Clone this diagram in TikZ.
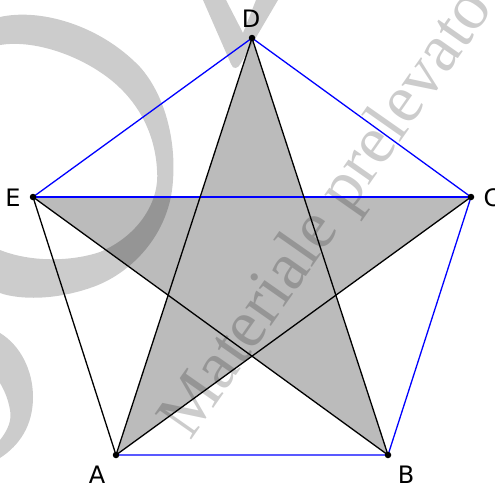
\documentclass[tikz,border=0pt]{standalone}
\usepackage{fontspec}
\setmainfont{DejaVu Sans}
\newfontfamily\wmfont{Liberation Serif}
\usetikzlibrary{positioning}

\definecolor{starfill}{RGB}{187,187,187}
\definecolor{segblue}{RGB}{0,0,255}

\tikzset{
  blueseg/.style={segblue, line width=1.3pt},
  blackseg/.style={black, line width=1.3pt},
  vdot/.style={circle, fill=black, inner sep=0pt, minimum size=6.5pt},
  vlabel/.style={font=\fontsize{24}{24}\selectfont, inner sep=0pt},
  wmark/.style={black, opacity=0.2},
  wmtext/.style={wmark, text opacity=0.2, font=\wmfont\fontsize{68}{68}\selectfont, inner sep=0pt}
}

\begin{document}
\begin{tikzpicture}[x=1pt,y=-1pt]
  \useasboundingbox (0,0) rectangle (495,485);
  \clip (0,0) rectangle (495,485);

  \coordinate (A) at (116,455);
  \coordinate (B) at (388,455);
  \coordinate (C) at (471,197);
  \coordinate (D) at (252,38);
  \coordinate (E) at (33,197);

  \fill[starfill] (A) -- (D) -- (B) -- (E) -- (C) -- cycle;

  % watermark
  \fill[wmark] (0,17) .. controls (40,8) and (100,25) .. (140,67)
    .. controls (165,95) and (176,140) .. (173,180)
    .. controls (170,235) and (130,275) .. (90,288)
    .. controls (55,300) and (20,300) .. (0,293)
    -- (0,250) .. controls (30,262) and (70,262) .. (100,252)
    .. controls (140,235) and (160,200) .. (157,170)
    .. controls (155,130) and (135,95) .. (100,72)
    .. controls (70,52) and (30,40) .. (0,45) -- cycle;
  \fill[wmark] (0,333) .. controls (20,345) and (33,370) .. (33,397)
    .. controls (33,425) and (20,445) .. (0,458)
    -- (0,440) .. controls (8,430) and (12,420) .. (10,410)
    .. controls (8,398) and (4,390) .. (0,383) -- cycle;
  \fill[wmark] (203,0) -- (226,0) -- (243,33) -- (256,0) -- (278,0)
    -- (241,63) .. controls (238,69) and (233,70) .. (231,64) -- cycle;
  \node[wmtext, rotate=55, anchor=base west] (wm) at (190,442) {Materiale prelevato};

  \draw[blueseg] (A) -- (B) -- (C) -- (D) -- (E);
  \draw[blueseg] (E) -- (C);
  \draw[blackseg] (E) -- (A) -- (D) -- (B) -- (E);
  \draw[blackseg] (A) -- (C);

  \foreach \v in {A,B,C,D,E}
    \node[vdot] (dot\v) at (\v) {};

  \node[vlabel] (labA) at (97,475) {A};
  \node[vlabel] (labB) at (406,475) {B};
  \node[vlabel] (labC) at (492,198) {C};
  \node[vlabel] (labD) at (251,19) {D};
  \node[vlabel] (labE) at (13,198) {E};
\end{tikzpicture}
\end{document}
